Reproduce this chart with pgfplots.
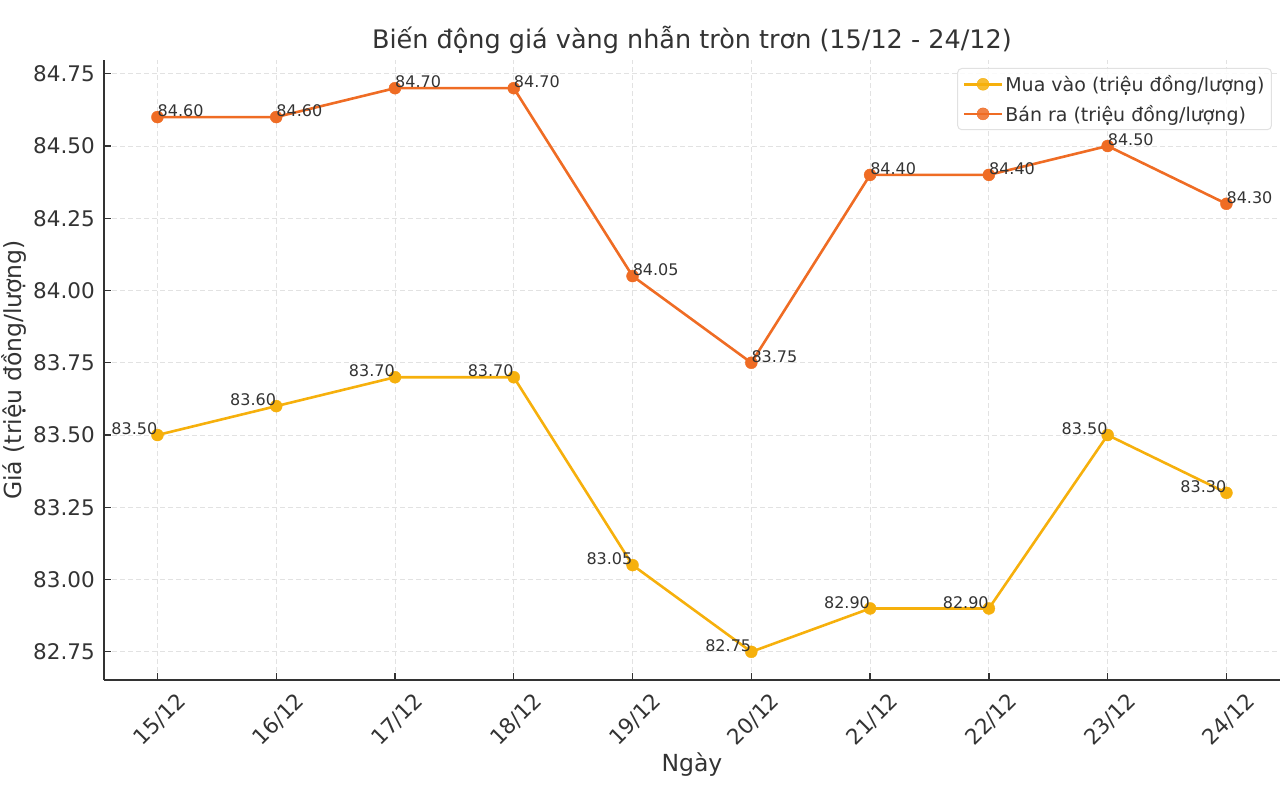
\documentclass[border=0pt]{standalone}
\usepackage{pgfplots}
\pgfplotsset{compat=1.18}
\usepackage{pgfplotstable}
\usepackage{fontspec}
\setmainfont{DejaVu Sans}
\definecolor{buyc}{RGB}{246,176,12}
\definecolor{sellc}{RGB}{239,108,36}
\definecolor{txt}{RGB}{51,51,51}
\definecolor{gridc}{RGB}{226,226,226}
\pgfplotstableread{
x y lab
0 83.50 83.50
1 83.60 83.60
2 83.70 83.70
3 83.70 83.70
4 83.05 83.05
5 82.75 82.75
6 82.90 82.90
7 82.90 82.90
8 83.50 83.50
9 83.30 83.30
}\buydata
\pgfplotstableread{
x y lab
0 84.60 84.60
1 84.60 84.60
2 84.70 84.70
3 84.70 84.70
4 84.05 84.05
5 83.75 83.75
6 84.40 84.40
7 84.40 84.40
8 84.50 84.50
9 84.30 84.30
}\selldata
\begin{document}
\begin{tikzpicture}
\begin{axis}[
  scale only axis,
  width=1176pt, height=620pt,
  xmin=-0.45, xmax=9.45,
  ymin=82.6525, ymax=84.7975,
  axis x line*=bottom, axis y line*=left,
  axis line style={-, color=txt, line width=1.6pt},
  xtick={0,...,9},
  xticklabels={15/12,16/12,17/12,18/12,19/12,20/12,21/12,22/12,23/12,24/12},
  ytick={82.75,83.00,83.25,83.50,83.75,84.00,84.25,84.50,84.75},
  /pgf/number format/fixed,
  /pgf/number format/fixed zerofill,
  /pgf/number format/precision=2,
  /pgf/number format/assume math mode=true,
  tick align=inside,
  major tick length=7pt,
  tick style={color=txt, line width=1.3pt},
  ticklabel style={font=\fontsize{21.5}{25}\selectfont, text=txt},
  xticklabel style={xshift=18pt, yshift=-11pt, rotate=45, anchor=north east, inner sep=0pt},
  yticklabel style={inner sep=0pt, xshift=-9pt},
  grid=major,
  major grid style={color=gridc, line width=0.9pt, dash pattern=on 5pt off 3pt},
  title={Biến động giá vàng nhẫn tròn trơn (15/12 - 24/12)},
  title style={at={(axis description cs:0.5,1)}, anchor=south, inner sep=0pt, yshift=0pt, font=\fontsize{25.5}{30}\selectfont, text=txt},
  xlabel={Ngày},
  ylabel={Giá (triệu đồng/lượng)},
  every axis x label/.style={at={(axis description cs:0.5,-0.137)}, anchor=center, font=\fontsize{23.5}{28}\selectfont, text=txt},
  every axis y label/.style={at={(axis description cs:-0.0765,0.5)}, rotate=90, anchor=center, font=\fontsize{23.5}{28}\selectfont, text=txt},
  legend style={at={(axis description cs:1,1)}, anchor=north east, xshift=-8pt, yshift=-8pt,
    draw=gridc!80!black!40, line width=1pt, rounded corners=4pt, fill=white, fill opacity=0.85, text opacity=1,
    font=\fontsize{19}{23}\selectfont, text=txt, inner sep=5pt,
    row sep=8pt},
  legend cell align=left,
  legend image code/.code={\draw[mark repeat=2,mark phase=2,#1] plot coordinates {(0pt,0pt)(19pt,0pt)(38pt,0pt)};},
  nodes near coords,
  point meta=explicit symbolic,
  every node near coord/.style={font=\fontsize{16}{19}\selectfont, text=txt, inner sep=0pt},
]
\addplot[color=buyc, line width=2.6pt, mark=*, mark size=6pt, mark options={solid, fill=buyc, draw=buyc, line width=0.4pt},
  every node near coord/.append style={anchor=south east}]
  table[x=x, y=y, meta=lab] {\buydata};
\addlegendentry{Mua vào (triệu đồng/lượng)}
\addplot[color=sellc, line width=2.6pt, mark=*, mark size=6pt, mark options={solid, fill=sellc, draw=sellc, line width=0.4pt},
  every node near coord/.append style={anchor=south west}]
  table[x=x, y=y, meta=lab] {\selldata};
\addlegendentry{Bán ra (triệu đồng/lượng)}
\end{axis}
\pgfresetboundingbox
\path (current axis.south west) ++(-104pt,-116pt) rectangle ++(1282pt,796pt);
\end{tikzpicture}
\end{document}
